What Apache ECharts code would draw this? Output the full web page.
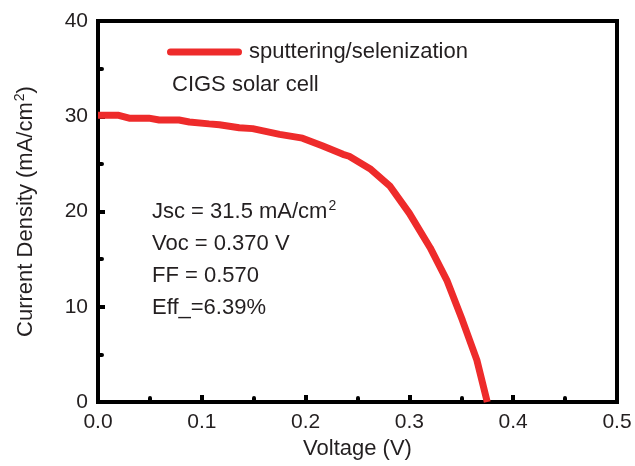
<!DOCTYPE html>
<html>
<head>
<meta charset="utf-8">
<script src="https://cdn.jsdelivr.net/npm/echarts@6/dist/echarts.min.js"></script>
<style>
  html, body { margin: 0; padding: 0; background: #fff; }
  #chart { width: 635px; height: 466px; }
</style>
</head>
<body>
<div id="chart"></div>
<script>
// J–V curve of a CIGS solar cell made by sputtering/selenization
const voltage = [0.000, 0.020, 0.030, 0.049, 0.059, 0.078, 0.088, 0.107, 0.117, 0.136,
                 0.149, 0.175, 0.197, 0.216, 0.236, 0.242, 0.262, 0.281, 0.300, 0.320,
                 0.336, 0.351, 0.365, 0.375];
const currentDensity = [30.1, 30.1, 29.8, 29.8, 29.6, 29.6, 29.4, 29.2, 29.1, 28.8,
                        28.7, 28.1, 27.7, 26.9, 26.0, 25.8, 24.5, 22.7, 19.8, 16.2,
                        12.8, 8.6, 4.4, 0.0];
const seriesName = 'sputtering/selenization';
const deviceLabel = 'CIGS solar cell';
const parameterLines = [
  '{t|Jsc = 31.5 mA/cm}{s|2}',
  '{t|Voc = 0.370 V}',
  '{t|FF = 0.570}',
  '{t|Eff_=6.39%}'
];

const FONT = '"Liberation Sans", Arial, Helvetica, sans-serif';
const INK = '#231f20';
const RED = '#ee2b2b';

const chart = echarts.init(document.getElementById('chart'), null, { renderer: 'canvas' });

const points = voltage.map((v, i) => [v, currentDensity[i]]);

const paramGraphics = parameterLines.map((txt, i) => ({
  type: 'text',
  x: 152,
  y: 212 + i * 32,
  z: 100,
  style: {
    text: txt,
    fill: INK,
    verticalAlign: 'middle',
    rich: {
      t: { fontSize: 22, fontFamily: FONT, fill: INK, lineHeight: 26 },
      s: { fontSize: 14, fontFamily: FONT, fill: INK, lineHeight: 26, verticalAlign: 'top', padding: [0, 0, 10, 1] }
    }
  }
}));

chart.setOption({
  animation: false,
  backgroundColor: '#fff',
  textStyle: { fontFamily: FONT, color: INK },
  grid: {
    left: 98, right: 18, top: 21, bottom: 64,
    show: true, borderColor: '#000', borderWidth: 4, backgroundColor: 'transparent'
  },
  legend: {
    data: [{ name: seriesName, icon: 'path://M3.5,0 H71.5 A3.5,3.5 0 0 1 71.5,7 H3.5 A3.5,3.5 0 0 1 3.5,0 Z' }],
    left: 162,
    top: 36,
    itemWidth: 75,
    itemHeight: 7,
    selectedMode: false,
    textStyle: { fontSize: 22, fontFamily: FONT, color: INK, padding: [0, 0, 8, 2] }
  },
  xAxis: {
    type: 'value',
    min: 0, max: 0.5, interval: 0.1,
    name: 'Voltage (V)',
    nameLocation: 'middle',
    nameGap: 31,
    nameTextStyle: { fontSize: 22, fontFamily: FONT, color: INK },
    axisLine: { show: true, onZero: false, lineStyle: { color: '#000', width: 4 } },
    axisTick: { show: true, inside: true, length: 7, lineStyle: { color: '#000', width: 4 } },
    minorTick: { show: true, splitNumber: 2, length: 4, lineStyle: { color: '#000', width: 4, cap: 'round' } },
    splitLine: { show: false },
    axisLabel: {
      fontSize: 21, fontFamily: FONT, color: INK, margin: 10,
      formatter: v => v.toFixed(1)
    }
  },
  yAxis: {
    type: 'value',
    min: 0, max: 40, interval: 10,
    name: '{t|Current Density (mA/cm}{s|2}{t|)}',
    nameLocation: 'middle',
    nameGap: 59,
    nameRotate: 90,
    nameTextStyle: {
      rich: {
        t: { fontSize: 22, fontFamily: FONT, color: INK, lineHeight: 26 },
        s: { fontSize: 14, fontFamily: FONT, color: INK, lineHeight: 26, verticalAlign: 'top', padding: [0, 0, 10, 1] }
      }
    },
    axisLine: { show: true, onZero: false, lineStyle: { color: '#000', width: 4 } },
    axisTick: { show: true, inside: true, length: 7, lineStyle: { color: '#000', width: 4 } },
    minorTick: { show: true, splitNumber: 2, length: 4, lineStyle: { color: '#000', width: 4, cap: 'round' } },
    splitLine: { show: false },
    axisLabel: { fontSize: 21, fontFamily: FONT, color: INK, margin: 10 }
  },
  series: [{
    name: seriesName,
    type: 'line',
    data: points,
    showSymbol: false,
    symbol: 'none',
    smooth: false,
    clip: true,
    z: 5,
    lineStyle: { color: RED, width: 7 },
    itemStyle: { color: RED }
  }],
  graphic: [
    {
      type: 'text',
      x: 172,
      y: 85,
      z: 100,
      style: { text: deviceLabel, fill: INK, font: '22px ' + FONT, verticalAlign: 'middle' }
    }
  ].concat(paramGraphics)
});
</script>
</body>
</html>
